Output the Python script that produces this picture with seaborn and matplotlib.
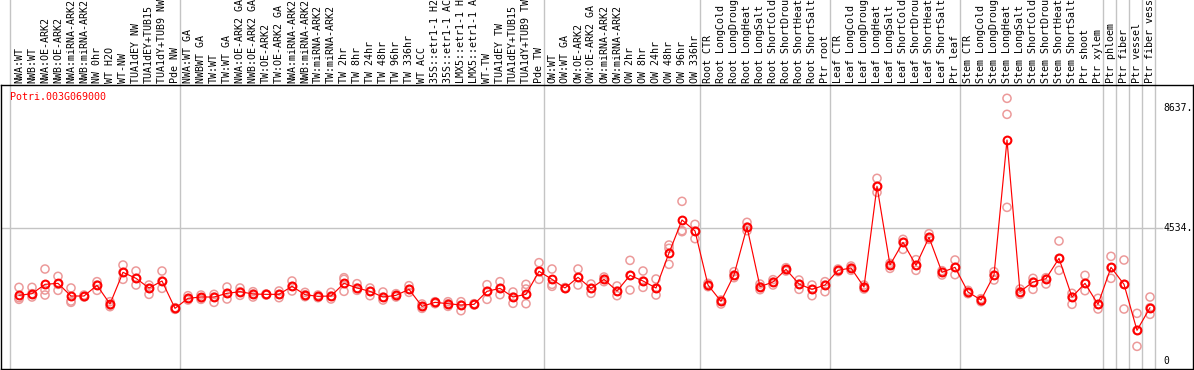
import numpy as np
import pandas as pd
import seaborn as sns
import matplotlib.pyplot as plt
import matplotlib.transforms as mtransforms

# ---- data ----
gene = "Potri.003G069000"

labels = [
    "NWA:WT", "NWB:WT", "NWA:OE-ARK2", "NWB:OE-ARK2", "NWA:miRNA-ARK2", "NWB:miRNA-ARK2",
    "NW 0hr", "WT H2O", "WT-NW", "TUA1dEY NW", "TUA1dEY+TUB15", "TUA1dY+TUB9 NW", "Pde NW",
    "NWA:WT GA", "NWBWT GA", "TW:WT", "TW:WT GA", "NWA:OE-ARK2 GA", "NWB:OE-ARK2 GA",
    "TW:OE-ARK2", "TW:OE-ARK2 GA", "NWA:miRNA-ARK2", "NWB:miRNA-ARK2", "TW:miRNA-ARK2",
    "TW:miRNA-ARK2", "TW 2hr", "TW 8hr", "TW 24hr", "TW 48hr", "TW 96hr", "TW 336hr", "WT ACC",
    "35S::etr1-1 H2O", "35S::etr1-1 ACC", "LMX5::etr1-1 H2O", "LMX5::etr1-1 ACC", "WT-TW",
    "TUA1dEY TW", "TUA1dEY+TUB15", "TUA1dY+TUB9 TW", "Pde TW",
    "OW:WT", "OW:WT GA", "OW:OE-ARK2", "OW:OE-ARK2 GA", "OW:miRNA-ARK2", "OW:miRNA-ARK2",
    "OW 2hr", "OW 8hr", "OW 24hr", "OW 48hr", "OW 96hr", "OW 336hr",
    "Root CTR", "Root LongCold", "Root LongDrought", "Root LongHeat", "Root LongSalt",
    "Root ShortCold", "Root ShortDrought", "Root ShortHeat", "Root ShortSalt", "Ptr root",
    "Leaf CTR", "Leaf LongCold", "Leaf LongDrought", "Leaf LongHeat", "Leaf LongSalt",
    "Leaf ShortCold", "Leaf ShortDrought", "Leaf ShortHeat", "Leaf ShortSalt", "Ptr leaf",
    "Stem CTR", "Stem LongCold", "Stem LongDrought", "Stem LongHeat", "Stem LongSalt",
    "Stem ShortCold", "Stem ShortDrought", "Stem ShortHeat", "Stem ShortSalt", "Ptr shoot",
    "Ptr xylem", "Ptr phloem", "Ptr fiber", "Ptr vessel", "Ptr fiber vessel",
]
group_sizes = [13, 28, 12, 10, 10, 11, 1, 1, 1, 1]

means = [2243, 2300, 2619, 2653, 2220, 2220, 2585, 1947, 3029, 2824, 2494, 2733, 1799,
         2141, 2186, 2186, 2312, 2368, 2289, 2277, 2277, 2551, 2266, 2209, 2220, 2653, 2494,
         2380, 2186, 2243, 2448, 1867, 2004, 1958, 1913, 1936, 2380, 2482, 2186, 2277, 3063,
         2790, 2494, 2858, 2482, 2790, 2391, 2926, 2733, 2494, 3689, 4817, 4441,
         2596, 2038, 2938, 4577, 2539, 2699, 3131, 2630, 2448, 2596,
         3097, 3177, 2528, 5967, 3279, 4054, 3268, 4225, 3029, 3200,
         2357, 2084, 2938, 7549, 2368, 2699, 2812, 3507, 2186, 2653, 1936,
         3200, 2619, 1048, 1822]

rep_1 = [2516, 2516, 3142, 2892, 2494, 2254, 2710, 2026, 3279, 3074, 2596, 3074, 1822,
         2231, 2254, 2277, 2527, 2494, 2368, 2289, 2391, 2733, 2345, 2254, 2345, 2846, 2641,
         2494, 2357, 2300, 2573, 1947, 2026, 2026, 2026, 1958, 2607, 2710, 2357, 2619, 3359,
         3142, 2510, 3142, 2630, 2869, 2562, 3438, 3074, 2801, 3962, 5454, 4668,
         2653, 2083, 3051, 4737, 2630, 2778, 3188, 2767, 2596, 2710,
         3142, 3245, 2596, 6240, 3336, 4156, 3461, 4349, 3085, 3450,
         2414, 2129, 3051, 8973, 2459, 2824, 2846, 4099, 2312, 2926, 2141,
         3575, 3450, 1628, 2186]
rep_2 = [2163, 2300, 2425, 2619, 2049, 2220, 2596, 1913, 3029, 2824, 2482, 2733, 1799,
         2141, 2163, 2186, 2312, 2368, 2289, 2277, 2277, 2551, 2266, 2209, 2220, 2790, 2494,
         2380, 2186, 2243, 2448, 1867, 2004, 1958, 1913, 1936, 2380, 2482, 2186, 2459, 3063,
         2619, 2494, 2858, 2482, 2790, 2391, 2926, 2733, 2494, 3848, 4452, 4441,
         2596, 2038, 2938, 4577, 2539, 2699, 3131, 2630, 2448, 2596,
         3097, 3177, 2528, 5967, 3279, 4054, 3268, 4225, 3029, 3200,
         2357, 2084, 2938, 8426, 2368, 2699, 2812, 3507, 2186, 2653, 1936,
         3188, 2619, 1048, 1821]
rep_3 = [2106, 2186, 2254, 2414, 2004, 2186, 2414, 1856, 2790, 2596, 2277, 2482, 1765,
         2083, 2106, 2004, 2118, 2243, 2186, 2254, 2163, 2391, 2197, 2163, 2118, 2380, 2414,
         2231, 2083, 2186, 2345, 1799, 1958, 1867, 1719, 1913, 2106, 2266, 1970, 1958, 2790,
         2551, 2478, 2596, 2312, 2710, 2231, 2425, 2516, 2254, 3302, 4418, 4179,
         2539, 1947, 2846, 4452, 2436, 2596, 3074, 2448, 2231, 2368,
         3051, 3097, 2459, 5761, 3165, 3814, 3097, 4156, 2938, 2949,
         2300, 2026, 2767, 5249, 2277, 2448, 2630, 3097, 1936, 2402, 1776,
         2824, 1776, 501, 1594]

ytick_vals = [0, 4534, 8637]
ytick_text = ["0", "4534.", "8637."]

RED = "#ff0000"
PINK = "#ec9a9a"

pos = np.arange(len(labels))
reps = pd.DataFrame({
    "pos": np.tile(pos, 3),
    "value": rep_1 + rep_2 + rep_3,
})
mean_df = pd.DataFrame({"pos": pos, "value": means})

sns.set_style("white")
plt.rcParams["font.family"] = ["DejaVu Sans Mono", "DejaVu Sans"]

W, H = 1194, 370
fig = plt.figure(figsize=(W / 100, H / 100), dpi=100)
ax = fig.add_axes([1 / W, 1 / H, 1192 / W, 284 / H])

x_left = (1 - 19) / 13
x_right = (1193 - 19) / 13
ax.set_xlim(x_left, x_right)
ax.set_ylim(-273, 9428)

# group separators (they run up through the label area)
bounds = [-0.7] + [b - 1 + 0.38 for b in np.cumsum(group_sizes)]
for b in bounds:
    ax.axvline(b, ymin=0, ymax=1.31, color="#c4c4c4", lw=1, clip_on=False, zorder=0)
ax.hlines(ytick_vals[1], x_left, 88.0, color="#c4c4c4", lw=1, zorder=0)

# replicates then the mean line
sns.scatterplot(data=reps, x="pos", y="value", marker="o", s=34,
                facecolor="none", edgecolor=PINK, linewidth=1.1, ax=ax, zorder=2)
sns.lineplot(data=mean_df, x="pos", y="value", color=RED, lw=0.85, marker="o",
             markersize=5.6, markerfacecolor="none", markeredgecolor=RED,
             markeredgewidth=1.5, ax=ax, zorder=3)

# sample labels above the frame
trans = mtransforms.blended_transform_factory(ax.transData, ax.transAxes)
for i, lab in enumerate(labels):
    ax.text(i, 1 + 2 / 284, lab, rotation=90, ha="center", va="bottom",
            fontsize=7.2, color="black", transform=trans, clip_on=False)

# value labels on the right
for v, t in zip(ytick_vals, ytick_text):
    ax.text(88.0, v, t, ha="left", va="center", fontsize=7, color="black")

fig.text(10 / W, 1 - 97 / H, gene, color=RED, fontsize=7.2, ha="left", va="center")

ax.set_xticks([])
ax.set_yticks([])
ax.set_xlabel("")
ax.set_ylabel("")
for sp in ax.spines.values():
    sp.set_color("black")
    sp.set_linewidth(1)

fig.savefig("out.png", dpi=100, facecolor="white")
